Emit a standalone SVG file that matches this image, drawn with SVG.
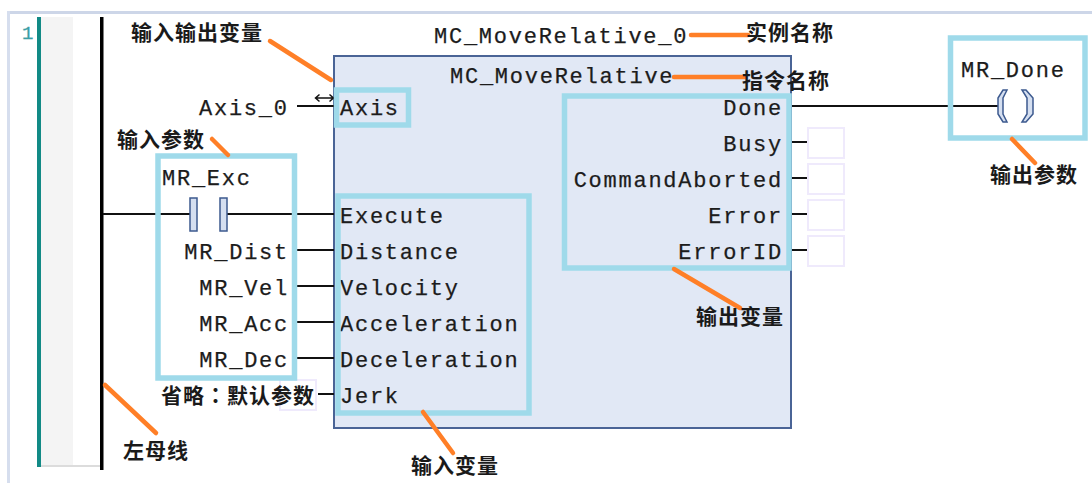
<svg xmlns="http://www.w3.org/2000/svg" width="1092" height="483" viewBox="0 0 1092 483">
<style>
.m{font-family:"Liberation Mono",monospace;font-size:22px;letter-spacing:1.75px;fill:#1c1c1c;stroke:#1c1c1c;stroke-width:.25px}
.e{text-anchor:end}
.c{font-family:"Noto Sans CJK SC","Noto Sans CJK JP",sans-serif;font-size:21px;font-weight:700;letter-spacing:1px;fill:#1a1a1a}
.w{stroke:#111;stroke-width:2;fill:none}
.h{fill:none;stroke:#9fdaea;stroke-width:5.5}
.o{stroke:#ff7f27;stroke-width:4.5;stroke-linecap:round;fill:none}
.b{fill:#fff;stroke:#efeafc;stroke-width:2}
.k{fill:#d5dff0;stroke:#3d5a8f;stroke-width:1.5}
</style>
<rect width="1092" height="483" fill="#fff"/>
<g id="frame">
<rect x="7" y="11" width="1085" height="3" fill="#cdd6e8"/>
<rect x="7" y="11" width="3" height="472" fill="#d6deee"/>
<rect x="41" y="17" width="32" height="449" fill="#f4f4f4"/>
<rect x="38" y="465" width="62" height="2" fill="#dcdcdc"/>
<rect x="37" y="17" width="4" height="450" fill="#128a86"/>
<rect x="100" y="17" width="3.5" height="453" fill="#000"/>
<text x="22" y="39" font-family="Liberation Mono, monospace" font-size="19" fill="#3a9ea5" stroke="#3a9ea5" stroke-width=".3">1</text>
</g>
<g id="block">
<rect x="334" y="56" width="457" height="372" fill="#e1e8f5" stroke="#4a6496" stroke-width="2"/>
<text class="m" x="434" y="43">MC_MoveRelative_0</text>
<text class="m" x="450" y="83">MC_MoveRelative</text>
</g>
<g id="connectors">
<path class="w" d="M297 106H334"/>
<path class="w" d="M103 214H190M227 214H334"/>
<path class="w" d="M297 250H334M297 286H334M297 322H334M297 358H334M318 394H334"/>
<path class="w" d="M792 106H998"/>
<path class="w" d="M792 142H808M792 178H808M792 214H808M792 250H808"/>
<path d="M316 98H333M319.500 94.500L315.500 98L319.500 101.500M329.500 94.500L333.500 98L329.500 101.500" fill="none" stroke="#111" stroke-width="1.500"/>
</g>
<g id="axis-var">
<text class="m" x="199" y="115">Axis_0</text>
<text class="m" x="340" y="115">Axis</text>
</g>
<g id="inputs">
<text class="m" x="340" y="223">Execute</text>
<text class="m" x="340" y="259">Distance</text>
<text class="m" x="340" y="295">Velocity</text>
<text class="m" x="340" y="331">Acceleration</text>
<text class="m" x="340" y="367">Deceleration</text>
<text class="m" x="340" y="403">Jerk</text>
</g>
<g id="input-params">
<text class="m" x="162" y="185">MR_Exc</text>
<rect class="k" x="190" y="198" width="7" height="33"/>
<rect class="k" x="220" y="198" width="7" height="33"/>
<text class="m e" x="289" y="259">MR_Dist</text>
<text class="m e" x="289" y="295">MR_Vel</text>
<text class="m e" x="289" y="331">MR_Acc</text>
<text class="m e" x="289" y="367">MR_Dec</text>
<rect class="b" x="280" y="380" width="36" height="30"/>
</g>
<g id="outputs">
<text class="m e" x="783" y="115">Done</text>
<text class="m e" x="783" y="151">Busy</text>
<text class="m e" x="783" y="187">CommandAborted</text>
<text class="m e" x="783" y="223">Error</text>
<text class="m e" x="783" y="259">ErrorID</text>
<rect class="b" x="808" y="128" width="36" height="30"/>
<rect class="b" x="808" y="164" width="36" height="30"/>
<rect class="b" x="808" y="200" width="36" height="30"/>
<rect class="b" x="808" y="236" width="36" height="30"/>
</g>
<g id="coil">
<text class="m" x="961" y="77">MR_Done</text>
<path d="M1007 90L1003 90L998 98V114L1003 122L1007 122L1003 114V98Z" fill="#d5dff0" stroke="#3d5a8f" stroke-width="1.500"/>
<path d="M1022 90L1026 90L1033 98V114L1026 122L1022 122L1027 114V98Z" fill="#d5dff0" stroke="#3d5a8f" stroke-width="1.500"/>
</g>
<g id="highlights">
<rect class="h" x="336.500" y="90" width="72" height="35"/>
<rect class="h" x="338" y="196" width="191" height="217"/>
<rect class="h" x="564.500" y="96" width="224.500" height="172"/>
<rect class="h" x="158" y="156" width="136.500" height="222"/>
<rect class="h" x="950.500" y="38" width="134.500" height="100"/>
</g>
<g id="callouts">
<path class="o" d="M270 41L331 80"/>
<path class="o" d="M212 139L228 155"/>
<path class="o" d="M105 385L156 433"/>
<path class="o" d="M691 35H748"/>
<path class="o" d="M674 77H745"/>
<path class="o" d="M1012 139L1035 163"/>
<path class="o" d="M423 412L453 453"/>
<path class="o" d="M674 269L740 308"/>
<text class="c" x="131" y="40">输入输出变量</text>
<text class="c" x="117" y="147">输入参数</text>
<text class="c" x="161" y="403">省略<tspan font-family="Noto Sans CJK TC, sans-serif">&#xFF1A;</tspan>默认参数</text>
<text class="c" x="123" y="458">左母线</text>
<text class="c" x="746" y="40">实例名称</text>
<text class="c" x="742" y="88">指令名称</text>
<text class="c" x="990" y="182">输出参数</text>
<text class="c" x="411" y="473">输入变量</text>
<text class="c" x="696" y="324">输出变量</text>
</g>
</svg>
